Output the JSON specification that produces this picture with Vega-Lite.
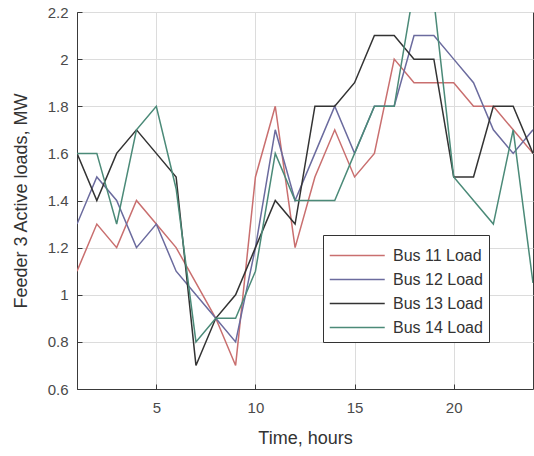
{
  "$schema": "https://vega.github.io/schema/vega-lite/v6.json",
  "width": 456,
  "height": 377,
  "autosize": {"type": "none"},
  "padding": {"left": 77, "top": 12, "right": 1, "bottom": 67},
  "background": "white",
  "config": {
    "font": "Liberation Sans",
    "view": {"stroke": "#3a3a3a", "strokeWidth": 1},
    "axis": {
      "domainColor": "#3a3a3a",
      "tickColor": "#3a3a3a",
      "tickSize": -5,
      "gridColor": "#dcdcdc",
      "labelColor": "#4a4a4a",
      "labelFontSize": 15,
      "titleColor": "#333333",
      "titleFontSize": 18,
      "titleFontWeight": "normal"
    }
  },
  "data": {
    "values": [
      {"hour": 1, "Bus 11 Load": 1.1, "Bus 12 Load": 1.3, "Bus 13 Load": 1.6, "Bus 14 Load": 1.6},
      {"hour": 2, "Bus 11 Load": 1.3, "Bus 12 Load": 1.5, "Bus 13 Load": 1.4, "Bus 14 Load": 1.6},
      {"hour": 3, "Bus 11 Load": 1.2, "Bus 12 Load": 1.4, "Bus 13 Load": 1.6, "Bus 14 Load": 1.3},
      {"hour": 4, "Bus 11 Load": 1.4, "Bus 12 Load": 1.2, "Bus 13 Load": 1.7, "Bus 14 Load": 1.7},
      {"hour": 5, "Bus 11 Load": 1.3, "Bus 12 Load": 1.3, "Bus 13 Load": 1.6, "Bus 14 Load": 1.8},
      {"hour": 6, "Bus 11 Load": 1.2, "Bus 12 Load": 1.1, "Bus 13 Load": 1.5, "Bus 14 Load": 1.45},
      {"hour": 7, "Bus 11 Load": 1.05, "Bus 12 Load": 1.0, "Bus 13 Load": 0.7, "Bus 14 Load": 0.8},
      {"hour": 8, "Bus 11 Load": 0.9, "Bus 12 Load": 0.9, "Bus 13 Load": 0.9, "Bus 14 Load": 0.9},
      {"hour": 9, "Bus 11 Load": 0.7, "Bus 12 Load": 0.8, "Bus 13 Load": 1.0, "Bus 14 Load": 0.9},
      {"hour": 10, "Bus 11 Load": 1.5, "Bus 12 Load": 1.2, "Bus 13 Load": 1.2, "Bus 14 Load": 1.1},
      {"hour": 11, "Bus 11 Load": 1.8, "Bus 12 Load": 1.7, "Bus 13 Load": 1.4, "Bus 14 Load": 1.6},
      {"hour": 12, "Bus 11 Load": 1.2, "Bus 12 Load": 1.4, "Bus 13 Load": 1.3, "Bus 14 Load": 1.4},
      {"hour": 13, "Bus 11 Load": 1.5, "Bus 12 Load": 1.6, "Bus 13 Load": 1.8, "Bus 14 Load": 1.4},
      {"hour": 14, "Bus 11 Load": 1.7, "Bus 12 Load": 1.8, "Bus 13 Load": 1.8, "Bus 14 Load": 1.4},
      {"hour": 15, "Bus 11 Load": 1.5, "Bus 12 Load": 1.6, "Bus 13 Load": 1.9, "Bus 14 Load": 1.6},
      {"hour": 16, "Bus 11 Load": 1.6, "Bus 12 Load": 1.8, "Bus 13 Load": 2.1, "Bus 14 Load": 1.8},
      {"hour": 17, "Bus 11 Load": 2.0, "Bus 12 Load": 1.8, "Bus 13 Load": 2.1, "Bus 14 Load": 1.8},
      {"hour": 18, "Bus 11 Load": 1.9, "Bus 12 Load": 2.1, "Bus 13 Load": 2.0, "Bus 14 Load": 2.3},
      {"hour": 19, "Bus 11 Load": 1.9, "Bus 12 Load": 2.1, "Bus 13 Load": 2.0, "Bus 14 Load": 2.25},
      {"hour": 20, "Bus 11 Load": 1.9, "Bus 12 Load": 2.0, "Bus 13 Load": 1.5, "Bus 14 Load": 1.5},
      {"hour": 21, "Bus 11 Load": 1.8, "Bus 12 Load": 1.9, "Bus 13 Load": 1.5, "Bus 14 Load": 1.4},
      {"hour": 22, "Bus 11 Load": 1.8, "Bus 12 Load": 1.7, "Bus 13 Load": 1.8, "Bus 14 Load": 1.3},
      {"hour": 23, "Bus 11 Load": 1.7, "Bus 12 Load": 1.6, "Bus 13 Load": 1.8, "Bus 14 Load": 1.7},
      {"hour": 24, "Bus 11 Load": 1.6, "Bus 12 Load": 1.7, "Bus 13 Load": 1.6, "Bus 14 Load": 1.05}
    ]
  },
  "transform": [
    {"fold": ["Bus 11 Load", "Bus 12 Load", "Bus 13 Load", "Bus 14 Load"], "as": ["series", "load"]}
  ],
  "mark": {"type": "line", "clip": true, "strokeWidth": 1.5},
  "encoding": {
    "x": {
      "field": "hour",
      "type": "quantitative",
      "scale": {"domain": [1, 24], "nice": false, "zero": false},
      "axis": {"values": [5, 10, 15, 20], "title": "Time, hours", "labelPadding": 16, "titlePadding": 14}
    },
    "y": {
      "field": "load",
      "type": "quantitative",
      "scale": {"domain": [0.6, 2.2], "nice": false, "zero": false},
      "axis": {"values": [0.6, 0.8, 1.0, 1.2, 1.4, 1.6, 1.8, 2.0, 2.2], "format": "~g", "title": "Feeder 3 Active loads, MW", "labelPadding": 14, "titlePadding": 17}
    },
    "color": {
      "field": "series",
      "type": "nominal",
      "scale": {
        "domain": ["Bus 11 Load", "Bus 12 Load", "Bus 13 Load", "Bus 14 Load"],
        "range": ["#c96f6f", "#6b6b9e", "#333333", "#4b8a78"]
      },
      "legend": {
        "title": null,
        "orient": "none",
        "legendX": 246,
        "legendY": 223,
        "symbolType": "M-1,0H3",
        "symbolSize": 756,
        "symbolStrokeWidth": 1.5,
        "labelFontSize": 16,
        "labelOffset": 35,
        "labelColor": "#333333",
        "strokeColor": "#333333",
        "fillColor": "white",
        "padding": 6,
        "rowPadding": 1,
        "cornerRadius": 0
      }
    }
  }
}
